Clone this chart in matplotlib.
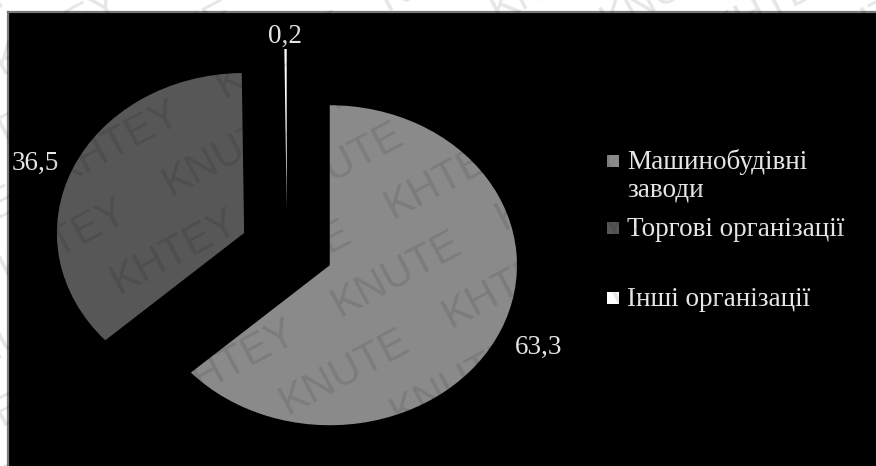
import numpy as np
import matplotlib
matplotlib.use("Agg")
import matplotlib.pyplot as plt
from matplotlib.patches import Rectangle

# ---- data ----
categories = ["Машинобудівні\nзаводи", "Торгові організації", "Інші організації"]
shares = [63.3, 36.5, 0.2]
slice_colors = ["#8a8a8a", "#575757", "#ffffff"]

# ---- layout (pixels) ----
W, H = 876, 466
SX = 1.17                 # horizontal stretch of the pie
CX_PX, CY_PX = 287, 249   # pie centre
R = 160                   # pie radius (vertical, px)
EXPLODE = 0.25 * R
LABEL_DIST = 1.08

SERIF = ["Liberation Serif", "DejaVu Serif"]
TEXT_COLOR = "#e6e6e6"
FS = 19.5

fig = plt.figure(figsize=(W / 100, H / 100), dpi=100, facecolor="white")

# black panel with a thin grey frame on the top and left
bg = fig.add_axes([8 / W, 0, (W - 8) / W, (H - 12) / H])
bg.set_facecolor("black")
bg.set_xticks([])
bg.set_yticks([])
for side in ("right", "bottom"):
    bg.spines[side].set_visible(False)
for side in ("top", "left"):
    bg.spines[side].set_color("#7a7a7a")
    bg.spines[side].set_linewidth(1.6)

# pie axes, in stretched pixel units
ax = fig.add_axes([0, 0, 1, 1])
ax.set_facecolor("none")
wedges, _ = ax.pie(
    shares,
    colors=slice_colors,
    startangle=90,
    counterclock=False,
    explode=[EXPLODE] * len(shares),
    radius=R,
    center=(CX_PX / SX, H - CY_PX),
    wedgeprops=dict(linewidth=0, antialiased=True),
)
ax.set_aspect("auto")
ax.set_xlim(0, W / SX)
ax.set_ylim(0, H)
ax.axis("off")

# value labels just outside each slice
for w, v in zip(wedges, shares):
    tm = np.deg2rad((w.theta1 + w.theta2) / 2)
    cx, cy = w.center
    c, s = np.cos(tm), np.sin(tm)
    x = cx + LABEL_DIST * R * c
    y = cy + LABEL_DIST * R * s
    ha = "left" if c > 0.2 else ("right" if c < -0.2 else "center")
    va = "top" if s < -0.2 else "center"
    ax.text(x, y, f"{v:.1f}".replace(".", ","), ha=ha, va=va,
            fontsize=FS, family=SERIF, color=TEXT_COLOR)

# overlay in plain pixel coordinates (y down) for legend and watermark
ov = fig.add_axes([0, 0, 1, 1])
ov.set_xlim(0, W)
ov.set_ylim(H, 0)
ov.axis("off")
ov.set_facecolor("none")

# legend
LEG_MARK_X = 607
LEG_TEXT_X = 627
LEG_BASELINES = [169, 236, 306]
LINE_PITCH = 27
MARK = 12
for name, col, base in zip(categories, slice_colors, LEG_BASELINES):
    ov.add_patch(Rectangle((LEG_MARK_X, base - MARK - 2), MARK, MARK,
                           facecolor=col, edgecolor="none"))
    for i, line in enumerate(name.split("\n")):
        ov.text(LEG_TEXT_X, base + i * LINE_PITCH, line, ha="left",
                va="baseline", fontsize=FS, family=SERIF, color=TEXT_COLOR)

# diagonal watermark across the whole picture
ANG = 28
u = np.array([np.cos(np.deg2rad(ANG)), -np.sin(np.deg2rad(ANG))])
n = np.array([np.sin(np.deg2rad(ANG)), np.cos(np.deg2rad(ANG))])
anchor = np.array([340.0, 317.0])
WORD_PITCH = 185
ROW_PITCH = 62
words = ["KNUTE", "KHTEY"]
for k in range(-12, 13):
    for j in range(-10, 11):
        p = anchor + k * ROW_PITCH * n + j * WORD_PITCH * u + (k % 2) * 0.5 * WORD_PITCH * u
        if -150 < p[0] < W + 50 and -100 < p[1] < H + 150:
            ov.text(p[0], p[1], words[(j + k) % 2], rotation=ANG,
                    rotation_mode="anchor", ha="left", va="baseline",
                    fontsize=30, family=["Liberation Sans", "DejaVu Sans"],
                    color="black", alpha=0.1, clip_on=True)

fig.savefig("out.png", dpi=100, facecolor=fig.get_facecolor())
